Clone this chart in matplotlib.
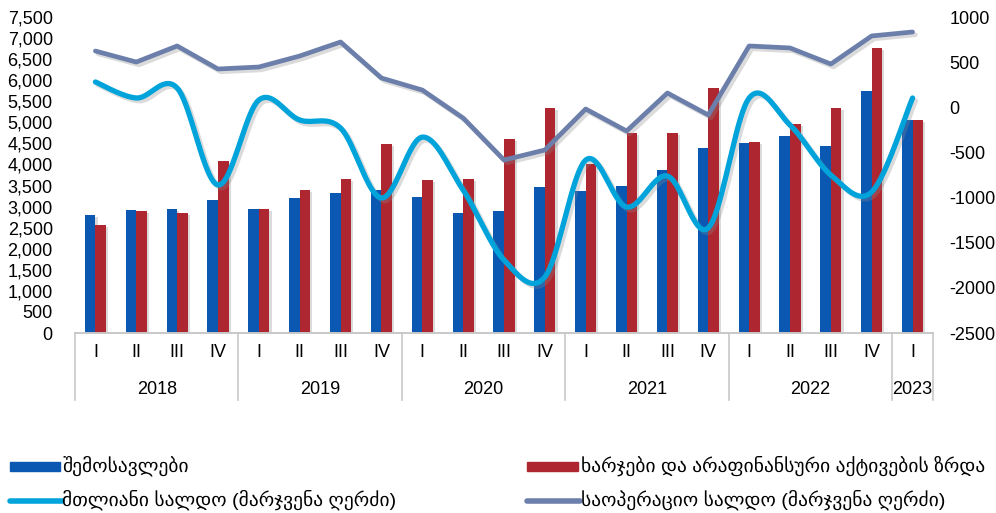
import numpy as np
import matplotlib
matplotlib.use('Agg')
import matplotlib.pyplot as plt
import matplotlib.patheffects as pe
from matplotlib.patches import Rectangle
from matplotlib.lines import Line2D
from matplotlib.ticker import FuncFormatter, MultipleLocator

plt.rcParams['font.family'] = ['Liberation Sans', 'DejaVu Sans']

# ---- data ----
years = ['2018', '2019', '2020', '2021', '2022', '2023']
quarters = ['I', 'II', 'III', 'IV'] * 5 + ['I']
revenue = [2800, 2920, 2940, 3160, 2940, 3200, 3320, 3400, 3230, 2850, 2900,
           3460, 3370, 3490, 3870, 4390, 4510, 4675, 4440, 5740, 5055]
expense = [2560, 2900, 2850, 4080, 2940, 3390, 3650, 4480, 3630, 3650, 4600,
           5340, 4010, 4750, 4750, 5815, 4530, 4960, 5340, 6760, 5055]
overall = [280, 103, 214, -861, 81, -141, -230, -1005, -330, -917, -1692,
           -1880, -584, -1105, -761, -1337, 103, -196, -750, -938, 103]
operating = [623, 501, 679, 424, 446, 568, 723, 324, 191, -119, -584,
             -473, -19, -263, 158, -85, 679, 657, 479, 790, 834]

lbl_rev = 'შემოსავლები'
lbl_exp = 'ხარჯები და არაფინანსური აქტივების ზრდა'
lbl_tot = 'მთლიანი სალდო (მარჯვენა ღერძი)'
lbl_op = 'საოპერაციო სალდო (მარჯვენა ღერძი)'

C_BLUE = '#0A58B2'
C_RED = '#AE2730'
C_CYAN = '#00A3DA'
C_GREY = '#6C7FAB'


def smooth(xs, ys, n=20):
    # Excel-like smoothed line (Catmull-Rom bezier)
    xs = np.asarray(xs, float)
    ys = np.asarray(ys, float)
    px = np.r_[xs[0], xs, xs[-1]]
    py = np.r_[ys[0], ys, ys[-1]]
    ox, oy = [], []
    t = np.linspace(0, 1, n)
    for i in range(1, len(px) - 2):
        p0 = np.array([px[i], py[i]])
        p3 = np.array([px[i + 1], py[i + 1]])
        c1 = p0 + (np.array([px[i + 1], py[i + 1]]) - np.array([px[i - 1], py[i - 1]])) / 6
        c2 = p3 - (np.array([px[i + 2], py[i + 2]]) - np.array([px[i], py[i]])) / 6
        b = ((1 - t) ** 3)[:, None] * p0 + (3 * (1 - t) ** 2 * t)[:, None] * c1 \
            + (3 * (1 - t) * t ** 2)[:, None] * c2 + (t ** 3)[:, None] * p3
        ox.extend(b[:, 0])
        oy.extend(b[:, 1])
    return ox, oy


fig = plt.figure(figsize=(9.96, 5.13), dpi=100)
W, H = 996, 513
L, R, T, B = 75, 933, 17, 333
ax = fig.add_axes([L / W, 1 - B / H, (R - L) / W, (B - T) / H])
ax2 = ax.twinx()

n = len(revenue)
x = np.arange(n)
bw = 0.26
shadow = [pe.SimplePatchShadow(offset=(1.5, -1.5), shadow_rgbFace='#999999', alpha=0.35), pe.Normal()]
ax.bar(x - bw / 2, revenue, bw, color=C_BLUE, zorder=2, path_effects=shadow)
ax.bar(x + bw / 2, expense, bw, color=C_RED, zorder=2, path_effects=shadow)

ax.set_xlim(-0.5, n - 0.5)
ax.set_ylim(0, 7500)
ax.yaxis.set_major_locator(MultipleLocator(500))
ax.yaxis.set_major_formatter(FuncFormatter(lambda v, p: f'{int(v):,}'))
ax2.set_ylim(-2500, 1000)
ax2.yaxis.set_major_locator(MultipleLocator(500))
ax2.yaxis.set_major_formatter(FuncFormatter(lambda v, p: f'{int(v)}'))

lshadow = [pe.SimpleLineShadow(offset=(2, -2), shadow_color='#888888', alpha=0.3), pe.Normal()]
sx, sy = smooth(x, overall)
ax2.plot(sx, sy, color=C_CYAN, lw=3.8, solid_capstyle='round', path_effects=lshadow, zorder=3)
ax2.plot(x, operating, color=C_GREY, lw=3.4, solid_capstyle='round', solid_joinstyle='round',
         path_effects=lshadow, zorder=3)

for a in (ax, ax2):
    for s in ('top', 'left', 'right'):
        a.spines[s].set_visible(False)
    a.spines['bottom'].set_color('#C8C8C8')
    a.spines['bottom'].set_linewidth(1.2)
    a.tick_params(axis='y', length=0, labelsize=13, colors='black')
    a.tick_params(axis='x', length=0)
ax.tick_params(axis='y', pad=16)
ax2.tick_params(axis='y', pad=12)
ax.set_xticks([])

# multi-level category axis
tr = ax.get_xaxis_transform()
for i, q in enumerate(quarters):
    ax.text(i, -0.063, q, transform=tr, ha='center', va='center', fontsize=13)
starts = [0, 4, 8, 12, 16, 20]
ends = [4, 8, 12, 16, 20, 21]
for yr, s, e in zip(years, starts, ends):
    ax.text((s + e) / 2 - 0.5, -0.18, yr, transform=tr, ha='center', va='center', fontsize=13)
for b_ in starts + [n]:
    ax.add_line(Line2D([b_ - 0.5, b_ - 0.5], [0, -0.212], transform=tr, color='#C8C8C8',
                       lw=1.2, clip_on=False))

# legend drawn by hand
def fx(px):
    return px / W


def fy(py):
    return 1 - py / H


fig.patches.append(Rectangle((fx(10), fy(471)), fx(50), 9 / H, color=C_BLUE, transform=fig.transFigure))
fig.patches.append(Rectangle((fx(527), fy(471)), fx(51), 9 / H, color=C_RED, transform=fig.transFigure))
fig.lines.append(Line2D([fx(10), fx(62)], [fy(501), fy(501)], color=C_CYAN, lw=4,
                        solid_capstyle='round', transform=fig.transFigure))
fig.lines.append(Line2D([fx(527), fx(580)], [fy(501), fy(501)], color=C_GREY, lw=4,
                        solid_capstyle='round', transform=fig.transFigure))
fs_leg = 14
fig.text(fx(62), fy(466), lbl_rev, fontsize=fs_leg, va='center', ha='left')
fig.text(fx(581), fy(466), lbl_exp, fontsize=fs_leg, va='center', ha='left')
fig.text(fx(62), fy(500), lbl_tot, fontsize=fs_leg, va='center', ha='left')
fig.text(fx(581), fy(500), lbl_op, fontsize=fs_leg, va='center', ha='left')

fig.savefig('out.png', dpi=100, facecolor='white')
